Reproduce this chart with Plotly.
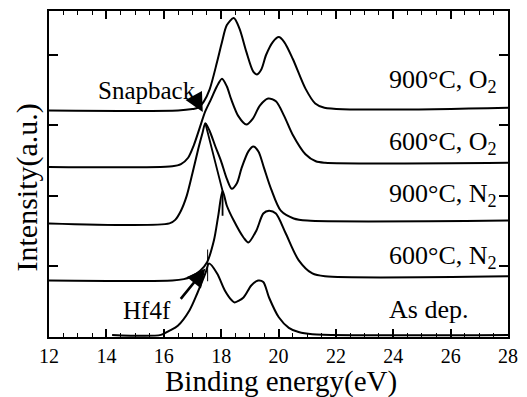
import plotly.graph_objects as go

# ---- data (binding energy in eV, intensity in a.u.) ----
energy_900_O2 = [12, 16.5, 17.0, 17.2, 17.4, 17.6, 17.86, 18.03, 18.2, 18.44, 18.64, 18.88,
                 19.12, 19.25, 19.4, 19.57, 19.8, 20.01, 20.2, 20.5, 20.94, 21.28, 21.6, 28]
int_900_O2 = [3.21, 3.21, 3.23, 3.25, 3.34, 3.51, 3.90, 4.18, 4.42, 4.52, 4.37, 4.04,
              3.76, 3.72, 3.79, 4.00, 4.18, 4.25, 4.18, 3.94, 3.52, 3.31, 3.25, 3.25]

energy_600_O2 = [12, 16.3, 16.6, 16.85, 17.05, 17.25, 17.45, 17.65, 17.85, 18.03, 18.2, 18.35,
                 18.6, 18.88, 19.1, 19.35, 19.64, 19.91, 20.2, 20.49, 20.94, 21.3, 21.62, 28]
int_600_O2 = [2.41, 2.42, 2.45, 2.54, 2.72, 2.96, 3.20, 3.37, 3.55, 3.66, 3.55, 3.37,
              3.13, 3.01, 3.09, 3.28, 3.38, 3.34, 3.13, 2.87, 2.59, 2.49, 2.47, 2.47]

energy_900_N2 = [12, 16.2, 16.4, 16.6, 16.8, 17.0, 17.2, 17.35, 17.45, 17.6, 17.8, 18.0, 18.2,
                 18.37, 18.55, 18.71, 18.95, 19.12, 19.3, 19.5, 19.74, 20.08, 20.53, 21.0, 28]
int_900_N2 = [1.61, 1.61, 1.66, 1.79, 2.00, 2.32, 2.66, 2.89, 3.03, 2.92, 2.70, 2.49, 2.24,
              2.10, 2.18, 2.39, 2.63, 2.70, 2.63, 2.39, 2.10, 1.79, 1.68, 1.65, 1.65]

energy_600_N2 = [12, 16.3, 16.7, 16.93, 17.27, 17.51, 17.75, 17.9, 18.05, 18.2, 18.44, 18.78,
                 18.95, 19.23, 19.47, 19.67, 19.91, 20.25, 20.7, 21.18, 21.62, 28]
int_600_N2 = [0.80, 0.80, 0.82, 0.85, 0.94, 1.06, 1.37, 1.72, 2.07, 1.86, 1.65, 1.41,
              1.34, 1.51, 1.75, 1.79, 1.75, 1.47, 1.09, 0.90, 0.86, 0.86]

energy_as_dep = [14.2, 15.9, 16.2, 16.49, 16.9, 17.17, 17.45, 17.58, 17.86, 18.13, 18.37, 18.47,
                 18.78, 19.05, 19.29, 19.47, 19.67, 20.01, 20.36, 20.7, 21.18, 28]
int_as_dep = [0.03, 0.03, 0.09, 0.16, 0.38, 0.62, 0.90, 1.04, 0.90, 0.66, 0.52, 0.49,
              0.56, 0.73, 0.80, 0.78, 0.56, 0.28, 0.13, 0.07, 0.04, 0.03]

series_names = ["900°C, O<sub>2</sub>", "600°C, O<sub>2</sub>", "900°C, N<sub>2</sub>",
                "600°C, N<sub>2</sub>", "As dep."]
x_ticks = [12, 14, 16, 18, 20, 22, 24, 26, 28]

series = [(energy_900_O2, int_900_O2), (energy_600_O2, int_600_O2),
          (energy_900_N2, int_900_N2), (energy_600_N2, int_600_N2),
          (energy_as_dep, int_as_dep)]

FONT = "Liberation Serif"
fig = go.Figure()

for (ex, iy), name in zip(series, series_names):
    fig.add_trace(go.Scatter(x=ex, y=iy, mode="lines", name=name,
                             line=dict(color="black", width=2, shape="spline", smoothing=0.8),
                             showlegend=False, hoverinfo="skip"))

# guide line joining the 900°C N2 peak to the 600°C N2 peak, and peak marks
def peak(ex, iy):
    i = max(range(len(iy)), key=lambda k: iy[k])
    return ex[i], iy[i]

px1, py1 = peak(energy_900_N2, int_900_N2)
px2, py2 = peak(energy_600_N2, int_600_N2)
px3, py3 = peak(energy_as_dep, int_as_dep)
fig.add_trace(go.Scatter(x=[px1, px2, px2], y=[py1, py2, py2 - 0.35], mode="lines",
                         line=dict(color="black", width=1.8), showlegend=False, hoverinfo="skip"))
fig.add_trace(go.Scatter(x=[px3 - 0.05, px3 - 0.05], y=[py3 + 0.2, py3 - 0.25], mode="lines",
                         line=dict(color="black", width=1), showlegend=False, hoverinfo="skip"))

# series labels on the right
label_y = [3.63, 2.75, 2.01, 1.14, 0.39]
for name, ly in zip(series_names, label_y):
    fig.add_annotation(x=23.78, y=ly, text=name, showarrow=False, xanchor="left",
                       yanchor="middle", font=dict(family=FONT, size=26, color="black"))

# arrows + their texts
fig.add_annotation(x=17.36, y=3.19, ax=17.13, ay=3.36, xref="x", yref="y", axref="x", ayref="y",
                   text="", showarrow=True, arrowhead=2, arrowsize=1.7, arrowwidth=2.2,
                   arrowcolor="black")
fig.add_annotation(x=15.40, y=3.49, text="Snapback", showarrow=False,
                   font=dict(family=FONT, size=25, color="black"))
fig.add_annotation(x=17.45, y=0.97, ax=16.55, ay=0.52, xref="x", yref="y", axref="x", ayref="y",
                   text="", showarrow=True, arrowhead=2, arrowsize=1.4, arrowwidth=2.6,
                   arrowcolor="black")
fig.add_annotation(x=15.42, y=0.37, text="Hf4f", showarrow=False,
                   font=dict(family=FONT, size=25, color="black"))

# axis titles
fig.add_annotation(x=0.505, y=-0.137, xref="paper", yref="paper", text="Binding energy(eV)",
                   showarrow=False, xanchor="center", yanchor="middle",
                   font=dict(family=FONT, size=29, color="black"))
fig.add_annotation(x=-0.047, y=0.46, xref="paper", yref="paper", text="Intensity(a.u.)",
                   showarrow=False, textangle=-90, xanchor="center", yanchor="middle",
                   font=dict(family=FONT, size=30, color="black"))

fig.update_layout(
    width=527, height=397,
    margin=dict(l=49, r=11, t=9, b=60),
    paper_bgcolor="white", plot_bgcolor="white",
    font=dict(family=FONT, color="black"),
    xaxis=dict(range=[12, 28], tickvals=x_ticks, ticktext=[str(v) for v in x_ticks],
               ticks="inside", ticklen=8, tickwidth=1.5, tickcolor="black",
               minor=dict(dtick=0.5, ticks="inside", ticklen=4, tickwidth=1.2, tickcolor="black"),
               showline=True, linecolor="black", linewidth=2, mirror="allticks",
               showgrid=False, zeroline=False, tickfont=dict(family=FONT, size=20, color="black")),
    yaxis=dict(range=[0, 4.62], tickvals=[1, 2, 3, 4], showticklabels=False,
               ticks="inside", ticklen=9, tickwidth=1.5, tickcolor="black",
               showline=True, linecolor="black", linewidth=2, mirror="allticks",
               showgrid=False, zeroline=False),
)

fig.write_html("out.html")
